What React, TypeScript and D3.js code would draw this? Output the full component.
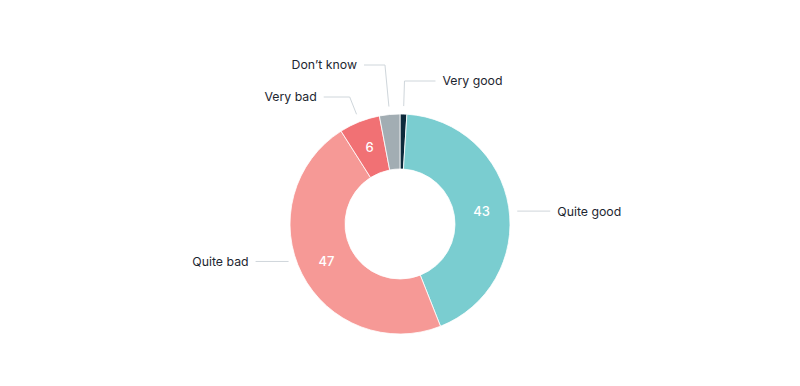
import React from 'react';
import * as d3 from 'd3';

// answer categories, clockwise from the top
const categories = ['Very good', 'Quite good', 'Quite bad', 'Very bad', 'Don’t know'];
const values = [1, 43, 47, 6, 3];
const colors = ['#0d2a3b', '#7acdd0', '#f69996', '#f17174', '#a2adb3'];
// only the larger slices get a number inside
const showValue = [false, true, true, true, false];

const width = 800;
const height = 386;
const cx = 400;
const cy = 224;
const outer = 110;
const inner = 55;

// label placement: y of the label row, side, and horizontal leg length
const labelLayout = [
    { y: 81, side: 1, leg: 31, elbow: true },
    { y: 0, side: 1, leg: 33, elbow: false },
    { y: 0, side: -1, leg: 33, elbow: false },
    { y: 97, side: -1, leg: 26, elbow: true },
    { y: 65, side: -1, leg: 21, elbow: true },
];

const App = () => {
    const pie = d3.pie<number>().sort(null).value(d => d);
    const arcs = pie(values);

    const arc = d3.arc<d3.PieArcDatum<number>>()
        .innerRadius(inner)
        .outerRadius(outer);

    const mid = (a: d3.PieArcDatum<number>) => (a.startAngle + a.endAngle) / 2;
    const polar = (angle: number, r: number): [number, number] =>
        [Math.sin(angle) * r, -Math.cos(angle) * r];

    return (
        <svg width={width} height={height}
            style={{ position: 'absolute', left: 0, top: 0, fontFamily: 'Inter, sans-serif' }}>
            <g transform={`translate(${cx}, ${cy})`}>
                {arcs.map((a, i) => (
                    <path key={i} d={arc(a) || ''} fill={colors[i]} stroke="#fff" strokeWidth={0.8} />
                ))}
                {arcs.map((a, i) => {
                    if (!showValue[i]) return null;
                    const [x, y] = polar(mid(a), (inner + outer) / 2);
                    return (
                        <text key={i} x={x} y={y} dy="0.36em" textAnchor="middle"
                            fill="#fff" fontSize={13} fontWeight={500}>
                            {values[i]}
                        </text>
                    );
                })}
                {arcs.map((a, i) => {
                    const lay = labelLayout[i];
                    const m = mid(a);
                    let pts: [number, number][];
                    if (lay.elbow) {
                        const start = polar(m, outer + 8);
                        const ly = lay.y - cy;
                        const r = ly / -Math.cos(m);
                        const elbow = polar(m, r);
                        pts = [start, elbow, [elbow[0] + lay.side * lay.leg, ly]];
                    } else {
                        const ly = polar(m, (inner + outer) / 2)[1];
                        const ex = Math.sqrt(outer * outer - ly * ly) * lay.side;
                        const x0 = ex + lay.side * 8;
                        pts = [[x0, ly], [x0 + lay.side * lay.leg, ly]];
                    }
                    const end = pts[pts.length - 1];
                    return (
                        <g key={i}>
                            <path d={d3.line()(pts) || ''} fill="none" stroke="#cfd6db" strokeWidth={1} />
                            <text x={end[0] + lay.side * 7} y={end[1]} dy="0.36em"
                                textAnchor={lay.side > 0 ? 'start' : 'end'}
                                fill="#1e2731" fontSize={12.3}>
                                {categories[i]}
                            </text>
                        </g>
                    );
                })}
            </g>
        </svg>
    );
};

export default App;
